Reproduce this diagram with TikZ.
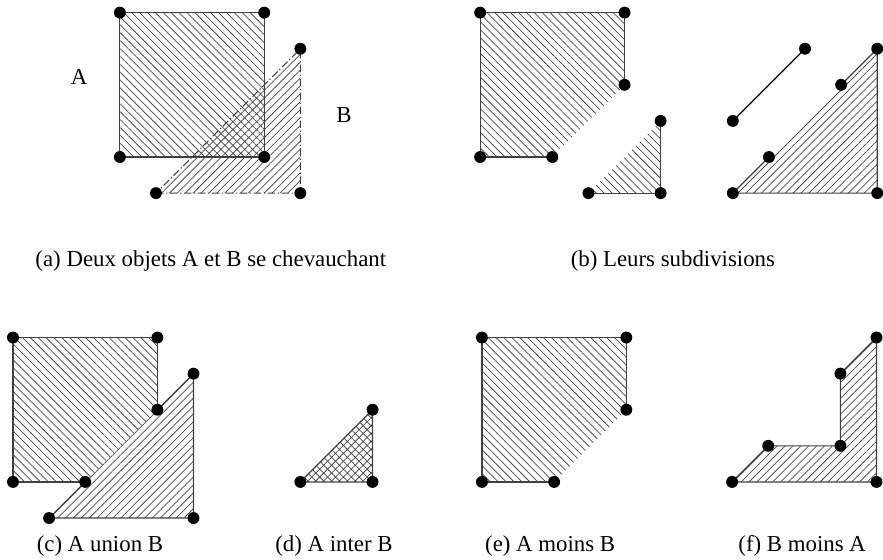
\documentclass[tikz,border=0pt]{standalone}
\usepackage{fontspec}
\setmainfont{Liberation Serif}
\usetikzlibrary{patterns.meta}

\begin{document}
\begin{tikzpicture}[
    % Styles des hachures
    hatch a/.style={pattern={Lines[angle=-45, distance=4.4pt, line width=0.6pt]}, pattern color=black!70},
    hatch b/.style={pattern={Lines[angle=45, distance=4.4pt, line width=0.6pt]}, pattern color=black!70},
    hatch ab/.style={pattern={Hatch[angle=45, distance=4.4pt, line width=0.6pt]}, pattern color=black!70},
    % Styles des bords
    border/.style={line width=0.9pt, black!75, line join=round},
    border b/.style={border, dash pattern=on 6pt off 2pt on 1pt off 2pt},
    % Sommets et textes
    vertex/.style={circle, fill=black, inner sep=0pt, minimum size=0.33cm},
    caption/.style={anchor=base, font=\fontsize{18}{22}\selectfont},
    obj label/.style={anchor=base, font=\fontsize{18}{22}\selectfont}
]
    \useasboundingbox (0,0) rectangle (24.46,15.51);

    % =========================================================================
    % (a) Deux objets qui se chevauchent
    % =========================================================================
    \begin{scope}[shift={(3.32,11.16)}]
        \coordinate (aA1) at (0,0);
        \coordinate (aA2) at (0,4);
        \coordinate (aA3) at (4,4);
        \coordinate (aA4) at (4,0);
        \coordinate (aB1) at (1,-1);
        \coordinate (aB2) at (5,-1);
        \coordinate (aB3) at (5,3);

        \fill[hatch a] (aA1) -- (aA2) -- (aA3) -- (aA4) -- cycle;
        \fill[hatch b] (aB1) -- (aB2) -- (aB3) -- cycle;
        \draw[border b] (aB1) -- (aB2) -- (aB3) -- cycle;
        \draw[border] (aA1) -- (aA2) -- (aA3) -- (aA4) -- cycle;

        \foreach \p in {aA1, aA2, aA3, aA4, aB1, aB2, aB3} {
            \node[vertex] (v-\p) at (\p) {};
        }
    \end{scope}
    \node[obj label] (labA) at (2.19,13.16) {A};
    \node[obj label] (labB) at (9.53,12.13) {B};

    % =========================================================================
    % (b) Les subdivisions
    % =========================================================================
    \begin{scope}[shift={(13.30,11.16)}]
        % A moins B
        \coordinate (bP1) at (0,0);
        \coordinate (bP2) at (0,4);
        \coordinate (bP3) at (4,4);
        \coordinate (bP4) at (4,2);
        \coordinate (bP5) at (2,0);
        % A inter B
        \coordinate (bT1) at (3,-1);
        \coordinate (bT2) at (5,-1);
        \coordinate (bT3) at (5,1);
        % bord commun
        \coordinate (bS1) at (7,1);
        \coordinate (bS2) at (9,3);
        % B
        \coordinate (bU1) at (7,-1);
        \coordinate (bU2) at (11,-1);
        \coordinate (bU3) at (11,3);
        \coordinate (bU4) at (8,0);
        \coordinate (bU5) at (10,2);

        \fill[hatch a] (bP1) -- (bP2) -- (bP3) -- (bP4) -- (bP5) -- cycle;
        \fill[hatch a] (bT1) -- (bT2) -- (bT3) -- cycle;
        \fill[hatch b] (bU1) -- (bU2) -- (bU3) -- cycle;

        \draw[border] (bP5) -- (bP1) -- (bP2) -- (bP3) -- (bP4);
        \draw[border] (bT1) -- (bT2) -- (bT3);
        \draw[border, black] (bS1) -- (bS2);
        \draw[border] (bU4) -- (bU1) -- (bU2) -- (bU3) -- (bU5);

        \foreach \p in {bP1, bP2, bP3, bP4, bP5, bT1, bT2, bT3, bS1, bS2, bU1, bU2, bU3, bU4, bU5} {
            \node[vertex] (v-\p) at (\p) {};
        }
    \end{scope}

    % =========================================================================
    % (c) A union B
    % =========================================================================
    \begin{scope}[shift={(0.36,2.16)}]
        \coordinate (cA1) at (0,0);
        \coordinate (cA2) at (0,4);
        \coordinate (cA3) at (4,4);
        \coordinate (cA4) at (4,2);
        \coordinate (cA5) at (2,0);
        \coordinate (cB1) at (1,-1);
        \coordinate (cB2) at (5,-1);
        \coordinate (cB3) at (5,3);

        \fill[hatch a] (cA1) -- (cA2) -- (cA3) -- (cA4) -- (cA5) -- cycle;
        \fill[hatch b] (cB1) -- (cB2) -- (cB3) -- cycle;
        \draw[border] (cA5) -- (cA1) -- (cA2) -- (cA3) -- (cA4);
        \draw[border] (cA5) -- (cB1) -- (cB2) -- (cB3) -- (cA4);

        \foreach \p in {cA1, cA2, cA3, cA4, cA5, cB1, cB2, cB3} {
            \node[vertex] (v-\p) at (\p) {};
        }
    \end{scope}

    % =========================================================================
    % (d) A inter B
    % =========================================================================
    \begin{scope}[shift={(6.32,2.16)}]
        \coordinate (dI1) at (2,0);
        \coordinate (dI2) at (4,0);
        \coordinate (dI3) at (4,2);

        \fill[hatch ab] (dI1) -- (dI2) -- (dI3) -- cycle;
        \draw[border] (dI1) -- (dI2) -- (dI3) -- cycle;

        \foreach \p in {dI1, dI2, dI3} {
            \node[vertex] (v-\p) at (\p) {};
        }
    \end{scope}

    % =========================================================================
    % (e) A moins B
    % =========================================================================
    \begin{scope}[shift={(13.35,2.16)}]
        \coordinate (eP1) at (0,0);
        \coordinate (eP2) at (0,4);
        \coordinate (eP3) at (4,4);
        \coordinate (eP4) at (4,2);
        \coordinate (eP5) at (2,0);

        \fill[hatch a] (eP1) -- (eP2) -- (eP3) -- (eP4) -- (eP5) -- cycle;
        \draw[border] (eP5) -- (eP1) -- (eP2) -- (eP3) -- (eP4);

        \foreach \p in {eP1, eP2, eP3, eP4, eP5} {
            \node[vertex] (v-\p) at (\p) {};
        }
    \end{scope}

    % =========================================================================
    % (f) B moins A
    % =========================================================================
    \begin{scope}[shift={(20.28,2.16)}]
        \coordinate (fP1) at (0,0);
        \coordinate (fP2) at (4,0);
        \coordinate (fP3) at (4,4);
        \coordinate (fP4) at (3,3);
        \coordinate (fP5) at (3,1);
        \coordinate (fP6) at (1,1);

        \fill[hatch b] (fP1) -- (fP2) -- (fP3) -- (fP4) -- (fP5) -- (fP6) -- cycle;
        \draw[border] (fP1) -- (fP2) -- (fP3) -- (fP4) -- (fP5) -- (fP6) -- cycle;

        \foreach \p in {fP1, fP2, fP3, fP4, fP5, fP6} {
            \node[vertex] (v-\p) at (\p) {};
        }
    \end{scope}

    % Legendes
    \node[caption] (capa) at (5.84,8.12) {(a) Deux objets A et B se chevauchant};
    \node[caption] (capb) at (18.64,8.12) {(b) Leurs subdivisions};
    \node[caption] (capc) at (2.77,0.22) {(c) A union B};
    \node[caption] (capd) at (9.25,0.22) {(d) A inter B};
    \node[caption] (cape) at (15.24,0.22) {(e) A moins B};
    \node[caption] (capf) at (22.22,0.22) {(f) B moins A};
\end{tikzpicture}
\end{document}
